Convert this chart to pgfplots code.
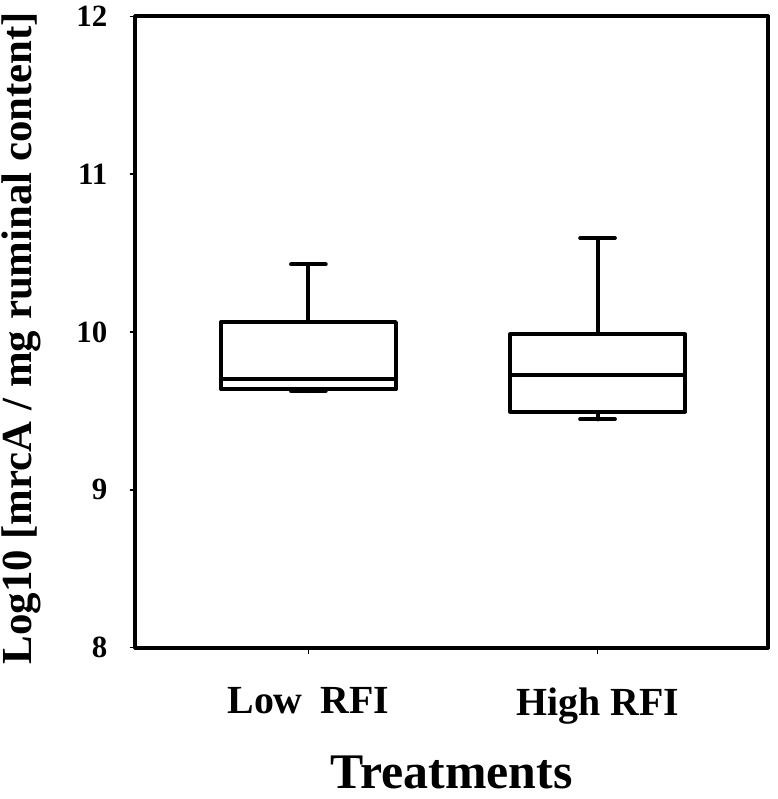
\documentclass[border=0pt]{standalone}
\usepackage{fontspec}
\setmainfont{Liberation Serif}
\usepackage{pgfplots}
\pgfplotsset{compat=1.18}
\usepgfplotslibrary{statistics}

\begin{document}
\begin{tikzpicture}
\begin{axis}[
  scale only axis,
  width=317.5pt, height=316.75pt,
  xmin=0.402, xmax=2.59,
  ymin=8, ymax=12,
  xtick={1,2},
  xticklabels={Low\hspace{4pt} RFI, High RFI},
  ytick={8,9,10,11,12},
  xtick pos=bottom, ytick pos=left,
  tick align=outside,
  major tick length=3pt,
  tick style={black, line width=0.8pt},
  axis line style={line width=2pt, line join=round},
  /pgf/number format/assume math mode=true,
  yticklabel style={font=\fontsize{15.5}{18}\selectfont\bfseries,
                    anchor=east, inner sep=0pt, xshift=-11pt},
  xticklabel style={font=\fontsize{20}{24}\selectfont\bfseries,
                    anchor=north, inner sep=0pt, yshift=-17pt},
  xlabel={Treatments},
  ylabel={Log10 [mrcA / mg ruminal content]},
  xlabel style={font=\fontsize{25}{30}\selectfont\bfseries,
                at={(axis description cs:0.5,-0.2230)}, anchor=base, inner sep=0pt},
  ylabel style={font=\fontsize{21.5}{25}\selectfont\bfseries,
                at={(axis description cs:-0.149,0.4905)}, anchor=south, inner sep=0pt},
  boxplot/draw direction=y,
]
% Low RFI
\addplot[black, line width=2pt, line join=round, line cap=round, fill=white,
  boxplot prepared={
    lower whisker=9.625, lower quartile=9.636, median=9.701,
    upper quartile=10.063, upper whisker=10.429,
    draw position=1, box extend=0.605, whisker extend=0.12}]
  coordinates {};
% High RFI
\addplot[black, line width=2pt, line join=round, line cap=round, fill=white,
  boxplot prepared={
    lower whisker=9.446, lower quartile=9.495, median=9.726,
    upper quartile=9.985, upper whisker=10.595,
    draw position=2, box extend=0.605, whisker extend=0.12}]
  coordinates {};
\coordinate (bl) at (rel axis cs:0,0);
\coordinate (tr) at (rel axis cs:1,1);
\end{axis}
% page margins as in the reference
\pgfresetboundingbox
\path ([shift={(-68pt,-76pt)}]bl) rectangle ([shift={(4.5pt,8.25pt)}]tr);
\end{tikzpicture}
\end{document}
